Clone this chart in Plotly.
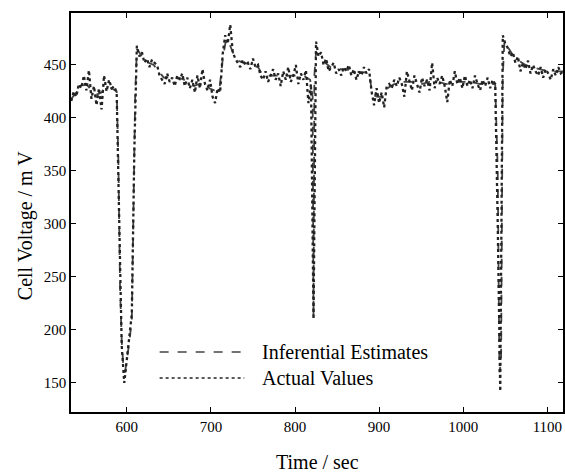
import plotly.graph_objects as go

# ---- data ----
actual_time = list(range(534, 1120, 3))
actual_values = [
    416, 425, 420, 432, 428, 440, 426, 445, 418, 430, 412, 428, 408, 440, 425, 436, 428, 430, 424, 300,
    185, 150, 170, 190, 215, 370, 468, 458, 462, 452, 456, 448, 455, 452, 450, 440, 436, 432, 442, 434,
    438, 430, 440, 436, 442, 430, 438, 428, 436, 424, 440, 428, 446, 432, 426, 436, 420, 414, 428, 424,
    460, 478, 470, 488, 462, 456, 452, 448, 455, 450, 452, 446, 456, 448, 450, 440, 436, 444, 434, 440,
    446, 436, 442, 430, 444, 436, 448, 434, 440, 450, 432, 442, 436, 445, 414, 432, 210, 472, 458, 462,
    450, 456, 444, 448, 452, 442, 446, 440, 448, 444, 450, 440, 446, 436, 444, 440, 448, 442, 446, 425,
    412, 428, 414, 424, 410, 430, 432, 428, 436, 430, 438, 432, 420, 444, 436, 426, 440, 432, 424, 438,
    430, 436, 426, 452, 428, 438, 432, 440, 430, 415, 436, 430, 444, 432, 438, 428, 440, 430, 436, 428,
    440, 432, 426, 436, 430, 438, 428, 436, 432, 300, 142, 478, 470, 466, 458, 462, 452, 458, 444, 452,
    446, 454, 442, 450, 444, 440, 448, 438, 446, 442, 436, 446, 440, 448, 442, 444,
]

est_time = [534, 540, 546, 552, 558, 564, 570, 576, 582, 588, 590, 592, 594, 596, 598, 600, 603, 606, 608,
            610, 612, 615, 620, 626, 632, 638, 644, 650, 656, 662, 668, 674, 680, 686, 692, 698, 704, 710,
            714, 718, 722, 726, 732, 740, 748, 756, 762, 770, 780, 790, 800, 810, 818, 821, 822, 823, 825,
            830, 836, 842, 850, 860, 870, 880, 888, 892, 898, 904, 910, 918, 926, 934, 942, 950, 960, 970,
            980, 990, 1000, 1010, 1020, 1030, 1038, 1041, 1043, 1045, 1047, 1049, 1054, 1060, 1066, 1074,
            1082, 1090, 1100, 1110, 1119]
est_values = [418, 424, 430, 432, 426, 422, 424, 430, 428, 425, 360, 240, 190, 165, 160, 172, 188, 210, 300,
              420, 465, 462, 456, 452, 450, 444, 438, 438, 436, 438, 436, 432, 430, 432, 434, 428, 426, 426,
              455, 474, 470, 462, 454, 452, 450, 448, 440, 440, 440, 440, 440, 440, 436, 420, 212, 440, 462,
              458, 452, 448, 446, 446, 444, 443, 443, 422, 420, 420, 428, 432, 434, 434, 434, 432, 434, 434,
              432, 434, 434, 434, 432, 432, 432, 350, 160, 170, 440, 472, 466, 458, 454, 450,
              448, 446, 444, 444, 444]

x_ticks = [600, 700, 800, 900, 1000, 1100]
y_ticks = [150, 200, 250, 300, 350, 400, 450]
x_title = "Time / sec"
y_title = "Cell Voltage / m V"
legend_labels = ["Inferential Estimates", "Actual Values"]

FONT = "Liberation Serif, Times New Roman, serif"
W, H = 565, 474
L, R, T, B = 71, 0, 13, 62

fig = go.Figure()
fig.add_trace(go.Scatter(x=est_time, y=est_values, mode="lines", name=legend_labels[0],
                         line=dict(color="#444444", width=1.8, dash="dash"), showlegend=False))
fig.add_trace(go.Scatter(x=actual_time, y=actual_values, mode="lines", name=legend_labels[1],
                         line=dict(color="#222222", width=2.3, dash="dot"), showlegend=False))

axis_common = dict(showline=True, linecolor="black", linewidth=1.5, mirror="ticks",
                   ticks="inside", ticklen=5, tickwidth=1.2, tickcolor="black",
                   showgrid=False, zeroline=False,
                   tickfont=dict(family=FONT, size=15, color="black"))
fig.update_xaxes(range=[533.7, 1118.6], tickvals=x_ticks, **axis_common)
fig.update_yaxes(range=[122.6, 499], tickvals=y_ticks, **axis_common)

pw, ph = W - L - R, H - T - B
def px(x):
    return (x - L) / pw
def py(y):
    return (H - B - y) / ph

# titles
fig.add_annotation(x=px(318), y=py(462), xref="paper", yref="paper", text=x_title, showarrow=False,
                   font=dict(family=FONT, size=20, color="black"), xanchor="center", yanchor="middle")
fig.add_annotation(x=px(25), y=py(226), xref="paper", yref="paper", text=y_title, showarrow=False,
                   textangle=-90, font=dict(family=FONT, size=20, color="black"),
                   xanchor="center", yanchor="middle")

# manual legend
legend_y = [352, 378]
legend_dash = ["dash", "dot"]
legend_color = ["#444444", "#222222"]
for lab, ly, d, c in zip(legend_labels, legend_y, legend_dash, legend_color):
    fig.add_shape(type="line", xref="paper", yref="paper", x0=px(160), x1=px(245), y0=py(ly), y1=py(ly),
                  line=dict(color=c, width=1.6, dash=d))
    fig.add_annotation(x=px(261), y=py(ly), xref="paper", yref="paper", text=lab, showarrow=False,
                       font=dict(family=FONT, size=20, color="black"), xanchor="left", yanchor="middle")

fig.update_layout(width=W, height=H, margin=dict(l=L, r=R, t=T, b=B),
                  paper_bgcolor="white", plot_bgcolor="white")
fig.write_html("out.html")
